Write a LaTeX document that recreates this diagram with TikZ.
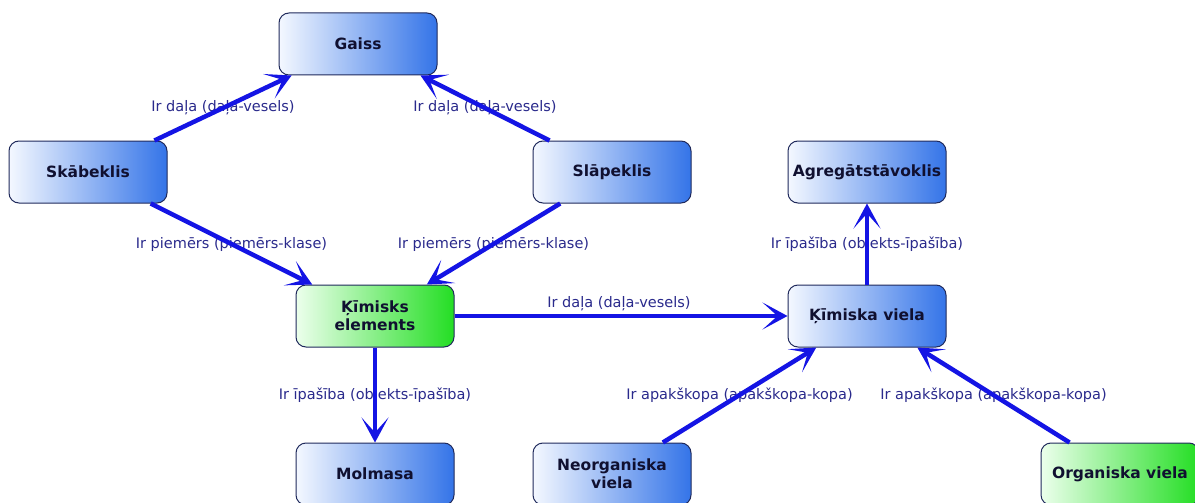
\documentclass[tikz,border=0pt]{standalone}
\usepackage{fontspec}
\setmainfont{DejaVu Sans}
\newfontfamily\labelfont{DejaVu Sans}
\usetikzlibrary{arrows.meta,calc}
\definecolor{boxL}{RGB}{244,248,255}
\definecolor{boxM}{RGB}{160,190,245}
\definecolor{boxR}{RGB}{52,116,232}
\definecolor{grnL}{RGB}{236,255,236}
\definecolor{grnM}{RGB}{150,240,150}
\definecolor{grnR}{RGB}{36,222,36}
\definecolor{boxline}{RGB}{32,42,92}
\definecolor{edgeblue}{RGB}{20,20,228}
\definecolor{labelblue}{RGB}{42,42,140}
\definecolor{nodetext}{RGB}{16,16,48}
\tikzset{
  concept/.style={draw=boxline, line width=1pt, rounded corners=10pt,
    minimum width=158pt, minimum height=62pt, inner sep=2pt,
    left color=boxL, middle color=boxM, right color=boxR,
    font=\fontsize{15.5}{18}\selectfont\bfseries, text=nodetext, align=center},
  greenconcept/.style={concept, left color=grnL, middle color=grnM, right color=grnR},
  rel/.style={draw=edgeblue, line width=4.5pt,
    -{Stealth[length=25pt,width=27pt,inset=15pt]}},
  rellabel/.style={font=\labelfont\fontsize{14.5}{16}\selectfont, text=labelblue, inner sep=1pt}
}
\begin{document}
\begin{tikzpicture}[x=1pt,y=-1pt]
\useasboundingbox[fill=white] (0,0) rectangle (1195,503);
% nodes
\node[concept] (gaiss) at (358,44) {Gaiss};
\node[concept] (skab) at (88,172) {Skābeklis};
\node[concept] (slap) at (612,172) {Slāpeklis};
\node[greenconcept] (kel) at (375,316) {Ķīmisks\\elements};
\node[concept] (mol) at (375,474) {Molmasa};
\node[concept] (agr) at (867,172) {Agregātstāvoklis};
\node[concept] (kv) at (867,316) {Ķīmiska viela};
\node[concept] (neo) at (612,474) {Neorganiska\\viela};
\node[greenconcept] (org) at (1120,474) {Organiska viela};
% labels (drawn below the connectors)
\node[rellabel] (l1) at ($(skab)!0.5!(gaiss)$) {Ir daļa (daļa-vesels)};
\node[rellabel] (l2) at ($(slap)!0.5!(gaiss)$) {Ir daļa (daļa-vesels)};
\node[rellabel] (l3) at ($(skab)!0.5!(kel)$) {Ir piemērs (piemērs-klase)};
\node[rellabel] (l4) at ($(slap)!0.5!(kel)$) {Ir piemērs (piemērs-klase)};
\node[rellabel, anchor=south] (l5) at ($(kel)!0.5!(kv)+(-2,-4)$) {Ir daļa (daļa-vesels)};
\node[rellabel] (l6) at ($(kel.south)!0.5!(mol.north)$) {Ir īpašība (objekts-īpašība)};
\node[rellabel] (l7) at ($(kv.north)!0.5!(agr.south)$) {Ir īpašība (objekts-īpašība)};
\node[rellabel] (l8) at ($(neo)!0.5!(kv)$) {Ir apakškopa (apakškopa-kopa)};
\node[rellabel] (l9) at ($(org)!0.5!(kv)$) {Ir apakškopa (apakškopa-kopa)};
% connectors
\draw[rel] (skab) -- (gaiss);
\draw[rel] (slap) -- (gaiss);
\draw[rel] (skab) -- (kel);
\draw[rel] (slap) -- (kel);
\draw[rel] (kel) -- (kv);
\draw[rel] (kel) -- (mol);
\draw[rel] (kv) -- (agr);
\draw[rel] (neo) -- (kv);
\draw[rel] (org) -- (kv);
\end{tikzpicture}
\end{document}
